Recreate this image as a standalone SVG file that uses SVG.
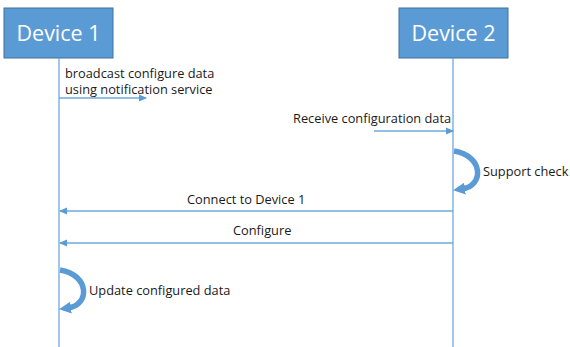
<svg xmlns="http://www.w3.org/2000/svg" width="570" height="347" viewBox="0 0 570 347">
<style>
.box{fill:#5B9BD5;stroke:#41719C;stroke-width:1}
.title{font-family:"Open Sans","Noto Sans",sans-serif;font-size:21.5px;fill:#ffffff;text-anchor:middle}
.lbl{font-family:"Open Sans","Noto Sans",sans-serif;font-size:12.8px;fill:#1a1a1a}
.life{stroke:#6FA8DC;stroke-width:1.3;fill:none}
.msg{stroke:#6FA8DC;stroke-width:1.3;fill:none}
.self{stroke:#5B9BD5;stroke-width:5.5;fill:none}
</style>
<defs>
<marker id="ah" markerWidth="8" markerHeight="8" refX="7" refY="4" orient="auto" markerUnits="userSpaceOnUse">
<path d="M0,0.5 L8,4 L0,7.5 Z" fill="#5B9BD5"/>
</marker>
<marker id="bh" markerWidth="12" markerHeight="12" refX="3" refY="6" orient="auto" markerUnits="userSpaceOnUse">
<path d="M0,0 L12,6 L0,12 Z" fill="#5B9BD5"/>
</marker>
</defs>
<g id="device1">
<rect class="box" x="4" y="8" width="109" height="50"/>
<text class="title" x="58.5" y="41">Device 1</text>
</g>
<g id="device2">
<rect class="box" x="399" y="8" width="109" height="50"/>
<text class="title" x="453.5" y="41">Device 2</text>
</g>
<g id="connectors">
<line class="life" x1="59" y1="58" x2="59" y2="347"/>
<line class="life" x1="453" y1="58" x2="453" y2="347"/>
<line class="msg" x1="59" y1="98" x2="146" y2="98" marker-end="url(#ah)"/>
<line class="msg" x1="374" y1="131" x2="453" y2="131" marker-end="url(#ah)"/>
<line class="msg" x1="453" y1="211" x2="60" y2="211" marker-end="url(#ah)"/>
<line class="msg" x1="453" y1="243" x2="60" y2="243" marker-end="url(#ah)"/>
<path class="self" d="M454,151 C484,156 484,186 462,189" marker-end="url(#bh)"/>
<path class="self" d="M60,270 C90,275 90,305 68,308" marker-end="url(#bh)"/>
</g>
<g id="labels">
<text class="lbl" x="65" y="78">broadcast configure data</text>
<text class="lbl" x="65" y="94">using notification service</text>
<text class="lbl" x="293" y="123">Receive configuration data</text>
<text class="lbl" x="483" y="176">Support check</text>
<text class="lbl" x="187" y="204">Connect to Device 1</text>
<text class="lbl" x="233" y="235">Configure</text>
<text class="lbl" x="89" y="295">Update configured data</text>
</g>
</svg>
